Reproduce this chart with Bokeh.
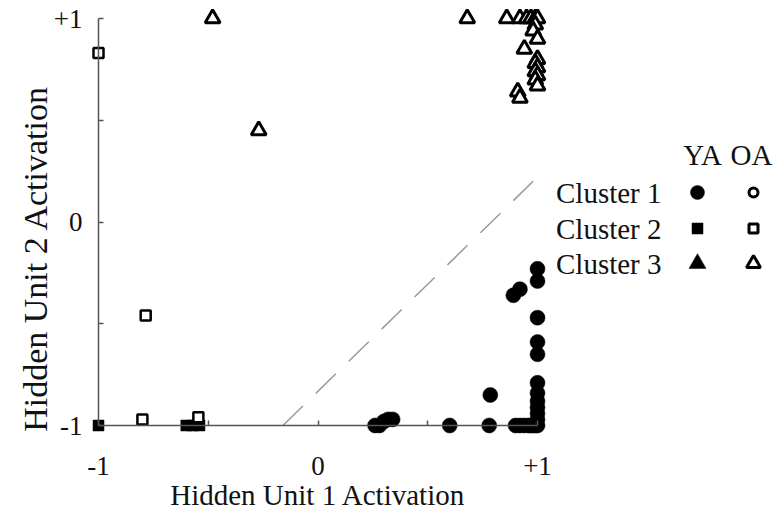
import math
from bokeh.plotting import figure
from bokeh.models import Range1d, Label, FixedTicker
from bokeh.embed import file_html
from bokeh.resources import INLINE

# ---------------- data ----------------
# Cluster 1, young adults (filled circles)
ya_c1_x = [0.26, 0.28, 0.30, 0.32, 0.34, 0.60, 0.78, 0.785, 0.90, 0.92, 0.94,
           0.96, 0.97, 0.98, 0.99, 1.00, 1.00, 1.00, 1.00, 1.00, 1.00, 1.00,
           1.00, 1.00, 1.00, 0.89, 0.92, 1.00, 1.00]
ya_c1_y = [-1.00, -1.00, -0.98, -0.97, -0.97, -1.00, -1.00, -0.85, -1.00, -1.00, -1.00,
           -1.00, -1.00, -1.00, -1.00, -1.00, -0.97, -0.94, -0.91, -0.88, -0.84, -0.79,
           -0.65, -0.59, -0.47, -0.36, -0.33, -0.29, -0.23]

# Cluster 2, young adults (filled squares)
ya_c2_x = [-1.00, -0.60, -0.57, -0.54]
ya_c2_y = [-1.00, -1.00, -1.00, -1.00]

# Cluster 2, older adults (open squares)
oa_c2_x = [-1.00, -0.785, -0.80, -0.545]
oa_c2_y = [0.83, -0.46, -0.97, -0.96]

# Cluster 3, older adults (open triangles)
oa_c3_x = [-0.48, -0.27, 0.68, 0.86, 0.92, 0.95, 0.97, 0.99, 1.00, 0.99, 0.98,
           1.00, 0.94, 1.00, 0.99, 1.00, 0.99, 1.00, 0.99, 1.00, 0.91, 0.92]
oa_c3_y = [1.00, 0.45, 1.00, 1.00, 1.00, 1.00, 1.00, 1.00, 1.00, 0.97, 0.94,
           0.90, 0.85, 0.80, 0.78, 0.76, 0.74, 0.72, 0.70, 0.67, 0.64, 0.61]

# dashed boundary line
boundary_x = [-0.16, 0.98]
boundary_y = [-1.00, 0.20]

# tick labels
tick_values = [-1, -0.5, 0, 0.5, 1]
tick_labels = {-1: "-1", -0.5: "", 0: "0", 0.5: "", 1: "+1"}

# legend
legend_rows = ["Cluster 1", "Cluster 2", "Cluster 3"]
legend_markers = ["circle", "square", "triangle"]
legend_groups = ["YA", "OA"]

x_title = "Hidden Unit 1 Activation"
y_title = "Hidden Unit 2 Activation"

FONT = "Liberation Serif"

W, H = 776, 514
SX, SY = 219.5, 203.5      # px per data unit
X0, Y0 = 98.0, 425.0       # pixel position of (-1, -1)

# ---------------- figure ----------------
p = figure(width=W, height=H, output_backend="svg", toolbar_location=None,
           x_range=Range1d(-1 - X0 / SX, -1 + (W - X0) / SX),
           y_range=Range1d(-1 - (H - Y0) / SY, -1 + Y0 / SY),
           min_border=0, x_axis_location="below", y_axis_location="left")
p.outline_line_color = None
p.grid.visible = False
p.background_fill_color = "white"
p.border_fill_color = "white"

for ax in (p.xaxis[0], p.yaxis[0]):
    ax.fixed_location = -1
    ax.bounds = (-1, 1)
    ax.ticker = FixedTicker(ticks=tick_values)
    ax.major_label_overrides = tick_labels
    ax.axis_line_color = "#555555"
    ax.axis_line_width = 1.5
    ax.major_tick_line_color = "#555555"
    ax.major_tick_line_width = 1.5
    ax.major_tick_in = 5
    ax.major_tick_out = 0
    ax.minor_tick_line_color = None
    ax.major_label_text_font = FONT
    ax.major_label_text_font_size = "27px"
    ax.major_label_text_color = "#111111"

p.xaxis[0].major_label_standoff = 31
p.yaxis[0].major_label_standoff = 16

# boundary
p.line(boundary_x, boundary_y, line_color="#9a9a9a", line_width=1.5, line_dash="28 18")

# data marks
p.scatter(oa_c3_x, oa_c3_y, marker="triangle", size=15, fill_color="white",
          line_color="black", line_width=3)
p.scatter(ya_c1_x, ya_c1_y, marker="circle", size=15, fill_color="black",
          line_color="black", line_width=0.5)
p.scatter(ya_c2_x, ya_c2_y, marker="square", size=11, fill_color="black",
          line_color="black", line_width=0.5)
p.scatter(oa_c2_x, oa_c2_y, marker="square", size=10, fill_color="white",
          line_color="black", line_width=2.5)

# ---------------- legend (drawn as text + marks) ----------------
def px_to_x(px):
    return -1 + (px - X0) / SX

def py_to_y(py):
    return -1 + (Y0 - py) / SY

row_py = [192, 228, 263]
for name, mk, py in zip(legend_rows, legend_markers, row_py):
    y = py_to_y(py)
    p.add_layout(Label(x=px_to_x(661), y=y, text=name, text_font=FONT,
                       text_font_size="29px", text_align="right",
                       text_baseline="middle", text_color="#111111"))
    fsize = {"circle": 14, "square": 11, "triangle": 17}[mk]
    osize = {"circle": 9, "square": 9, "triangle": 14}[mk]
    p.scatter([px_to_x(697)], [y], marker=mk, size=fsize, fill_color="black",
              line_color="black", line_width=0.5)
    p.scatter([px_to_x(753)], [y], marker=mk, size=osize, fill_color="white",
              line_color="black", line_width=3)

for grp, px in zip(legend_groups, [702, 751]):
    p.add_layout(Label(x=px_to_x(px), y=py_to_y(154), text=grp, text_font=FONT,
                       text_font_size="29px", text_align="center",
                       text_baseline="middle", text_color="#111111"))

# axis titles
p.add_layout(Label(x=px_to_x(317.5), y=py_to_y(494), text=x_title, text_font=FONT,
                   text_font_size="29px", text_align="center", text_baseline="middle",
                   text_color="#111111"))
p.add_layout(Label(x=px_to_x(35), y=py_to_y(258), text=y_title, text_font=FONT,
                   text_font_size="34px", text_align="center", text_baseline="middle",
                   angle=math.pi / 2, text_color="#111111"))

open("out.html", "w").write(file_html(p, INLINE))
